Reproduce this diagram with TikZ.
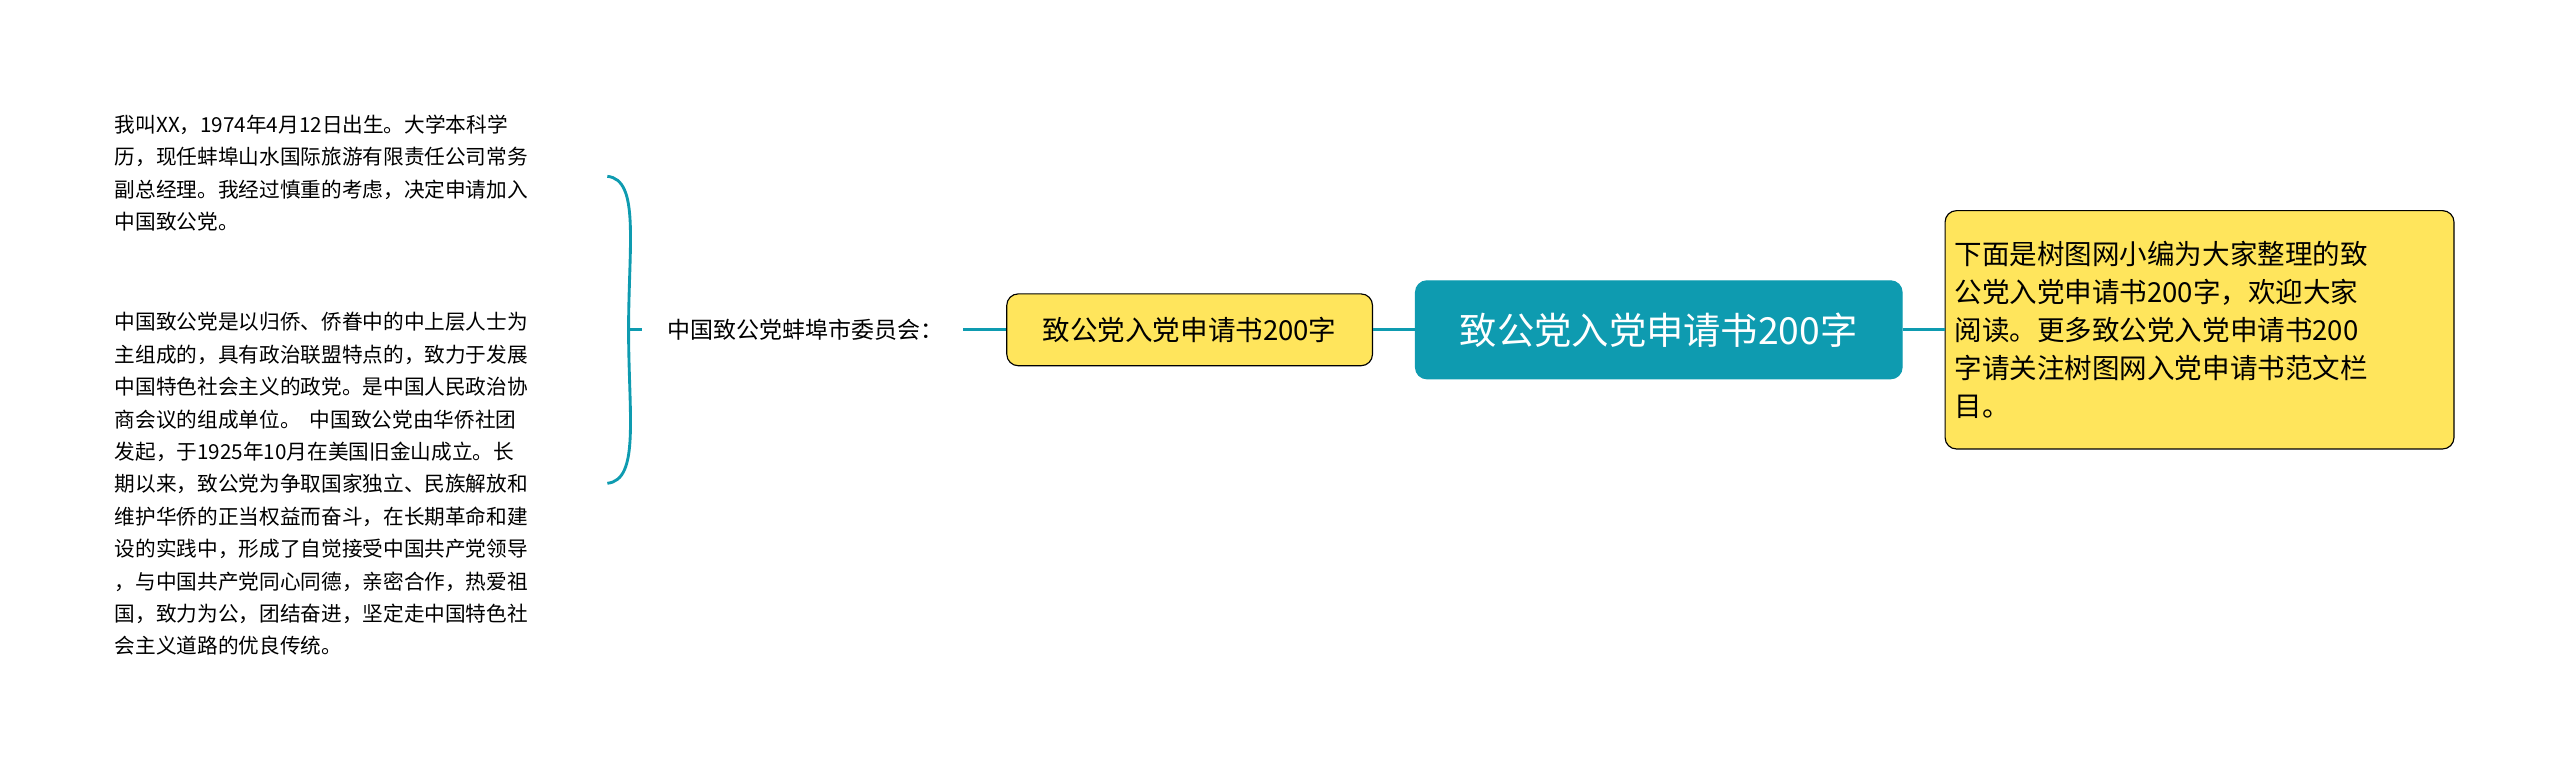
\documentclass[tikz,border=0pt]{standalone}
\usepackage{fontspec}
\setmainfont{Noto Sans CJK SC}
\definecolor{rootblue}{HTML}{0E9BB0}
\definecolor{topicyellow}{HTML}{FFE55C}
\begin{document}
\begin{tikzpicture}[x=0.02cm,y=-0.02cm,
                topic/.style = {draw=black, rounded corners=4pt, fill=topicyellow, font=\fontsize{9.6}{13.2}\selectfont},
                note/.style = {align=left, anchor=north west, inner sep=0pt, font=\fontsize{7.2}{11.3}\selectfont},
                link/.style = {draw=rootblue, line width=1pt}
            ]
            \useasboundingbox (0,0) rectangle (1568,471);
            \node[draw=rootblue, fill=rootblue, rounded corners=4pt, text=white,
                  minimum width=298*0.02cm, minimum height=60*0.02cm,
                  font=\fontsize{13}{15}\selectfont] (root) at (1016,202) {致公党入党申请书200字};
            \node[topic, align=left, anchor=west, minimum height=146*0.02cm, text width=300*0.02cm] (intro) at (1191,202)
                {下面是树图网小编为大家整理的致\\公党入党申请书200字，欢迎大家\\阅读。更多致公党入党申请书200\\字请关注树图网入党申请书范文栏\\目。};
            \node[topic, anchor=east, minimum height=44*0.02cm, minimum width=224*0.02cm] (title) at (841,202) {致公党入党申请书200字};
            \node[anchor=east, inner sep=0pt, font=\fontsize{8}{9}\selectfont] (org) at (578,202) {中国致公党蚌埠市委员会：};
            \coordinate (orgend) at (590,202);
            \coordinate (brace) at (385,202);
            \coordinate (upper) at (372,108);
            \coordinate (lower) at (372,296);
            \node[note] (bio) at (70,70)
                {我叫XX，1974年4月12日出生。大学本科学\\历，现任蚌埠山水国际旅游有限责任公司常务\\副总经理。我经过慎重的考虑，决定申请加入\\中国致公党。};
            \node[note] (party) at (70,191)
                {中国致公党是以归侨、侨眷中的中上层人士为\\主组成的，具有政治联盟特点的，致力于发展\\中国特色社会主义的政党。是中国人民政治协\\商会议的组成单位。\ \ 中国致公党由华侨社团\\发起，于1925年10月在美国旧金山成立。长\\期以来，致公党为争取国家独立、民族解放和\\维护华侨的正当权益而奋斗，在长期革命和建\\设的实践中，形成了自觉接受中国共产党领导\\，与中国共产党同心同德，亲密合作，热爱祖\\国，致力为公，团结奋进，坚定走中国特色社\\会主义道路的优良传统。};
            \draw[link] (root) -- (intro);
            \draw[link] (root) -- (title);
            \draw[link] (title) -- (orgend);
            \draw[link] (brace) -- ++(8,0);
            \draw[link] (upper) .. controls (392,110) and (385,150) .. (385,202);
            \draw[link] (lower) .. controls (392,294) and (385,254) .. (385,202);
        \end{tikzpicture}
\end{document}
